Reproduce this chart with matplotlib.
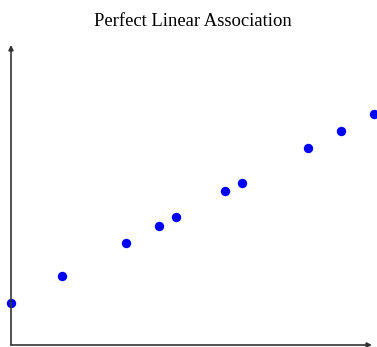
import matplotlib.pyplot as plt

# data
x = [0, 3.1, 7, 9, 10, 13, 14, 18, 20, 22]
y = [10, 13.1, 17, 19, 20, 23, 24, 28, 30, 32]

fig = plt.figure(figsize=(3.77, 3.47), dpi=100)
ax = fig.add_axes([11 / 377, 2 / 347, 361 / 377, 300 / 347])

ax.scatter(x, y, s=46, color='#0000ff', zorder=3, clip_on=False, linewidths=0)
ax.set_xlim(0, 21.88)
ax.set_ylim(5.11, 40.03)

for s in ax.spines.values():
    s.set_visible(False)
ax.set_xticks([])
ax.set_yticks([])

# axes drawn as arrows
arrow = dict(arrowstyle='-|>', color='#333333', lw=1.2, mutation_scale=7, shrinkA=0, shrinkB=0)
ax.annotate('', xy=(1, 0), xytext=(0, 0), xycoords='axes fraction', arrowprops=arrow)
ax.annotate('', xy=(0, 1), xytext=(0, 0), xycoords='axes fraction', arrowprops=arrow)

fig.text(193 / 377, 1 - 21 / 347, 'Perfect Linear Association', ha='center', va='center',
         family='Liberation Serif', fontsize=13.4)

fig.savefig('out.png', dpi=100)
